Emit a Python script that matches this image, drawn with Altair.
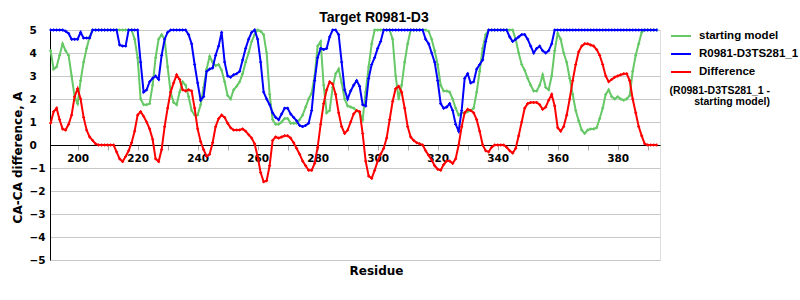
import altair as alt
import pandas as pd

residues = list(range(191, 394))

starting_model = [
    4.1, 3.3, 3.4, 3.9, 4.4, 4.1, 3.9, 3.0, 2.1, 1.8,
    2.8, 3.6, 4.2, 4.7, 5.0, 5.0, 5.0, 5.0, 5.0, 5.0,
    5.0, 5.0, 5.0, 5.0, 5.0, 5.0, 5.0, 5.0, 4.6, 3.8,
    2.0, 1.75, 1.75, 1.8, 2.6, 3.8, 4.6, 4.8, 4.6, 3.4,
    2.3, 1.85, 1.75, 2.3, 2.75, 2.6, 2.1, 1.5, 1.3, 1.3,
    1.75, 2.5, 3.3, 3.85, 3.6, 3.45, 3.5, 3.25, 2.75, 2.15,
    2.0, 2.4, 2.55, 2.75, 3.1, 3.6, 4.0, 4.5, 4.8, 5.0,
    4.95, 4.8, 4.0, 2.2, 1.1, 0.9, 0.9, 1.0, 1.15, 1.15,
    0.95, 0.95, 0.95, 1.1, 1.3, 1.65, 2.0, 2.25, 3.0, 4.3,
    4.5, 2.6, 1.4, 1.5, 2.5, 3.1, 3.3, 2.7, 2.0, 1.7,
    1.65, 1.6, 1.5, 1.4, 1.1, 2.3, 3.4, 4.4, 5.0, 5.0,
    5.0, 5.0, 5.0, 5.0, 4.6, 3.0, 2.0, 2.6, 3.6, 4.4,
    5.0, 5.0, 5.0, 5.0, 5.0, 5.0, 4.95, 4.6, 4.1, 3.5,
    2.6, 2.35, 2.35, 2.3, 2.0, 1.6, 1.3, 1.4, 1.4, 1.45,
    1.5, 1.6, 2.3, 3.2, 4.2, 4.8, 5.0, 5.0, 5.0, 5.0,
    5.0, 5.0, 5.0, 5.0, 5.0, 4.6, 4.0, 3.5, 3.25, 2.9,
    2.6, 2.35, 2.35, 2.6, 3.05, 2.5, 2.4, 3.0, 4.1, 4.85,
    4.6, 4.0, 3.6, 2.9, 2.2, 1.5, 1.05, 0.65, 0.5, 0.65,
    0.7, 0.7, 0.75, 1.15, 1.6, 2.2, 2.4, 2.1, 2.0, 2.1,
    2.0, 1.95, 2.0, 2.15, 3.2, 3.9, 4.4, 4.9, 5.0, 5.0,
    5.0, 5.0, 5.0,
]

model = [
    5.0, 5.0, 5.0, 5.0, 5.0, 4.95, 4.85, 4.6, 4.6, 4.6,
    4.9, 4.65, 4.65, 4.65, 5.0, 5.0, 5.0, 5.0, 5.0, 5.0,
    5.0, 5.0, 5.0, 4.35, 4.3, 4.3, 5.0, 5.0, 5.0, 5.0,
    3.6, 2.3, 2.4, 2.75, 2.9, 3.0, 2.85, 3.9, 4.6, 4.9,
    5.0, 5.0, 5.0, 5.0, 5.0, 5.0, 4.8, 4.4, 3.5, 2.7,
    1.95, 2.1, 3.2, 3.3, 3.35, 3.9, 4.3, 4.9, 3.6, 3.0,
    2.95, 3.05, 3.1, 3.2, 3.7, 4.2, 4.6, 4.9, 5.0, 4.6,
    3.6, 2.3, 2.0, 1.75, 1.4, 1.2, 1.1, 1.35, 1.6, 1.6,
    1.35, 1.2, 1.05, 0.85, 0.8, 0.85, 0.95, 1.5, 2.8, 3.8,
    4.2, 4.15, 4.2, 4.7, 5.0, 5.0, 4.8, 3.6, 2.4, 2.0,
    2.35, 2.6, 2.8, 2.55, 1.75, 1.7, 2.9, 3.5, 3.8, 4.2,
    4.5, 5.0, 5.0, 5.0, 5.0, 5.0, 5.0, 5.0, 5.0, 5.0,
    5.0, 5.0, 5.0, 5.0, 5.0, 4.6, 4.4, 4.0, 3.6, 2.8,
    1.8, 1.6, 1.65, 1.8, 1.5, 0.9, 0.6, 1.5, 2.9, 3.1,
    2.7, 2.75, 3.3, 3.5, 3.7, 4.5, 5.0, 5.0, 5.0, 5.0,
    5.0, 5.0, 5.0, 4.7, 4.5, 4.6, 4.7, 4.8, 4.8, 4.6,
    4.3, 4.0, 4.2, 4.3, 4.1, 4.0, 4.1, 4.4, 5.0, 5.0,
    5.0, 5.0, 5.0, 5.0, 5.0, 5.0, 5.0, 5.0, 5.0, 5.0,
    5.0, 5.0, 5.0, 5.0, 5.0, 5.0, 5.0, 5.0, 5.0, 5.0,
    5.0, 5.0, 5.0, 5.0, 5.0, 5.0, 5.0, 5.0, 5.0, 5.0,
    5.0, 5.0, 5.0,
]

difference = [
    0.95, 1.45, 1.6, 1.1, 0.7, 0.65, 0.9, 1.3, 2.1, 2.45,
    2.0, 1.2, 0.65, 0.35, 0.2, 0.05, 0.0, 0.0, 0.0, 0.0,
    0.0, 0.0, -0.3, -0.6, -0.72, -0.5, -0.25, 0.1, 0.6, 1.3,
    1.45, 1.25, 1.0, 0.7, 0.25, -0.6, -0.72, -0.2, 0.8, 1.6,
    2.3, 2.7, 3.05, 2.85, 2.4, 2.35, 2.4, 2.35, 1.6, 0.7,
    0.15, -0.2, -0.5, -0.4, 0.1, 0.8, 1.15, 1.3, 1.2, 0.95,
    0.75, 0.65, 0.65, 0.65, 0.7, 0.6, 0.45, 0.3, 0.05, -0.5,
    -1.2, -1.6, -1.55, -0.9, 0.2, 0.35, 0.3, 0.35, 0.4, 0.4,
    0.3, 0.1, -0.15, -0.4, -0.7, -0.9, -1.1, -1.1, -0.8, -0.1,
    0.9, 1.8, 2.4, 2.75, 2.65, 2.2, 1.4, 0.8, 0.5, 0.65,
    1.0, 1.35, 1.5, 1.45, 0.5, -0.7, -1.35, -1.45, -1.1, -0.7,
    -0.4, -0.15, 0.3, 1.1, 1.9, 2.45, 2.55, 2.3, 1.6, 0.8,
    0.35, 0.2, 0.1, 0.05, 0.0, -0.25, -0.45, -0.65, -0.9, -1.05,
    -1.1, -0.85, -0.7, -0.7, -0.8, -0.6, 0.0, 0.8, 1.4, 1.55,
    1.5, 1.4, 1.1, 0.6, 0.0, -0.25, -0.3, -0.1, 0.0, 0.0,
    0.0, 0.0, -0.1, -0.25, -0.35, -0.15, 0.4, 1.0, 1.6, 1.8,
    1.85, 1.85, 1.85, 1.75, 1.55, 1.65, 1.95, 2.2, 1.7, 0.75,
    0.6, 0.8, 1.3, 2.0, 2.8, 3.5, 4.05, 4.3, 4.4, 4.4,
    4.35, 4.3, 4.15, 3.9, 3.5, 3.0, 2.75, 2.85, 2.95, 3.0,
    3.05, 3.1, 3.1, 2.8, 2.0, 1.4, 0.8, 0.4, 0.05, 0.0,
    0.0, 0.0, 0.0,
]

series_names = ["starting model", "R0981-D3TS281_1", "Difference"]
series_colors = ["#66c866", "#0000ff", "#ff0000"]
legend_note = ["(R0981-D3TS281_1 -", "starting model)"]
x_ticks = list(range(200, 400, 10))
y_ticks = list(range(-5, 6))

frames = []
for name, vals in zip(series_names, [starting_model, model, difference]):
    frames.append(pd.DataFrame({"residue": residues, "value": vals, "series": name}))
df = pd.concat(frames, ignore_index=True)

color_scale = alt.Scale(domain=series_names, range=series_colors)

x_enc = alt.X(
    "residue:Q",
    scale=alt.Scale(domain=[190.8, 394.1], nice=False, zero=False),
    axis=alt.Axis(
        values=x_ticks,
        labelExpr="datum.value % 20 == 0 ? datum.label : ''",
        orient="bottom",
        offset=-115,
        grid=False,
        domainColor="black",
        domainWidth=1,
        tickColor="#a8a8a8",
        tickSize=5,
        labelFont="DejaVu Sans",
        labelFontWeight="bold",
        labelFontSize=10.5,
        labelColor="black",
        labelPadding=3,
        labelFlush=False,
        title="Residue",
        titleFont="DejaVu Sans",
        titleFontWeight="bold",
        titleFontSize=12,
        titleColor="black",
        titleX=326,
        titleY=129,
        titleBaseline="alphabetic",
        titleAlign="center",
    ),
)

y_enc = alt.Y(
    "value:Q",
    scale=alt.Scale(domain=[-5, 5], nice=False),
    axis=alt.Axis(
        values=y_ticks,
        grid=True,
        gridColor="#c8c8c8",
        domainColor="black",
        ticks=False,
        labelAlign="left",
        labelPadding=21,
        labelFont="DejaVu Sans",
        labelFontWeight="bold",
        labelFontSize=10.5,
        labelColor="black",
        title="CA-CA difference, A",
        titleFont="DejaVu Sans",
        titleFontWeight="bold",
        titleFontSize=12,
        titleColor="black",
        titleX=-33,
        titleY=127,
        titleAngle=-90,
        titleAlign="center",
        titleBaseline="middle",
    ),
)

color_enc = alt.Color(
    "series:N",
    scale=color_scale,
    legend=alt.Legend(
        orient="none",
        legendX=620,
        legendY=-5,
        title=None,
        symbolType="stroke",
        symbolSize=400,
        symbolStrokeWidth=2,
        labelFont="Liberation Sans",
        labelFontSize=11.5,
        labelFontWeight="bold",
        labelColor="black",
        labelOffset=7,
        rowPadding=1,
        padding=0,
    ),
)

base = alt.Chart(df).encode(x=x_enc, y=y_enc, color=color_enc)

layers = []
for name in series_names:
    sub = base.transform_filter(alt.datum.series == name)
    layers.append(sub.mark_line(strokeWidth=2))
    layers.append(sub.mark_point(shape="cross", filled=True, size=9, opacity=1))

note = alt.Chart(pd.DataFrame({"note": [legend_note]})).mark_text(
    font="Liberation Sans",
    fontSize=10.5,
    fontWeight="bold",
    align="right",
    baseline="top",
    lineHeight=11,
    color="black",
).encode(text="note", x=alt.value(720), y=alt.value(56))

chart = alt.layer(*layers, note).properties(
    width=610,
    height=230,
    autosize=alt.AutoSizeParams(type="none"),
    padding={"left": 50, "top": 30, "right": 140, "bottom": 40},
    title=alt.TitleParams(
        "Target R0981-D3",
        font="Liberation Sans",
        fontSize=14,
        fontWeight="bold",
        color="black",
        anchor="middle",
        dx=19,
        offset=-11,
        baseline="alphabetic",
    ),
).configure_view(stroke="#c8c8c8", strokeWidth=1).configure(background="white")

chart.save("out.html", embed_options={"renderer": "svg", "actions": False})
